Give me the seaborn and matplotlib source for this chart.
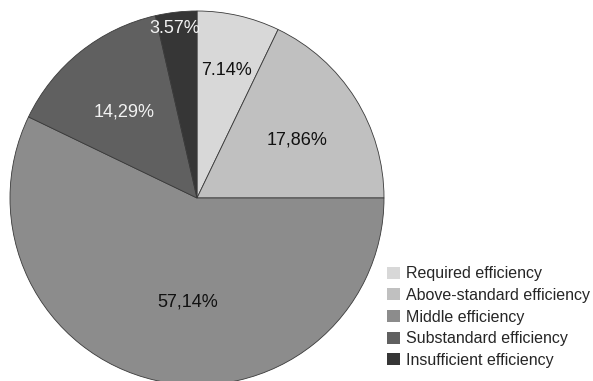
import numpy as np
import matplotlib
matplotlib.use("Agg")
import matplotlib.pyplot as plt
import seaborn as sns

categories = ["Required efficiency", "Above-standard efficiency", "Middle efficiency",
              "Substandard efficiency", "Insufficient efficiency"]
shares = [7.14, 17.86, 57.14, 14.29, 3.57]
value_labels = ["7.14%", "17,86%", "57,14%", "14,29%", "3.57%"]

sns.set_theme(style="white")
plt.rcParams["font.family"] = ["Liberation Sans", "DejaVu Sans"]

colors = ["#d8d8d8", "#c0c0c0", "#8c8c8c", "#606060", "#363636"]
text_colors = ["#111111", "#111111", "#111111", "#f2f2f2", "#f2f2f2"]
label_radius = [0.70, 0.62, 0.56, 0.60, 0.915]
label_shift = [0, -2, 7.5, 1.7, 1]  # degrees, nudges along the arc

W, H = 593, 381
fig = plt.figure(figsize=(W / 100, H / 100), dpi=100)
ax = fig.add_axes([0, 0, 1, 1])

R = 187.0
cx, cy = 197.0, 198.0
wedges, _ = ax.pie(shares, colors=colors, startangle=90, counterclock=False,
                   radius=1.0, center=(0, 0),
                   wedgeprops=dict(edgecolor="#3a3a3a", linewidth=0.6))

for w, lab, tc, rr, sh in zip(wedges, value_labels, text_colors, label_radius, label_shift):
    mid = np.deg2rad((w.theta1 + w.theta2) / 2 + sh)
    ax.text(rr * np.cos(mid), rr * np.sin(mid), lab, ha="center", va="center",
            fontsize=13, color=tc)

ax.set_xlim(-cx / R, (W - cx) / R)
ax.set_ylim(-(H - cy) / R, cy / R)
ax.set_aspect("equal", adjustable="datalim")
ax.axis("off")

leg = fig.legend(wedges, categories, loc="upper left",
                 bbox_to_anchor=(376 / W, 1 - 255 / H), frameon=False,
                 fontsize=11.5, handlelength=0.78, handleheight=0.78,
                 handletextpad=0.37, labelspacing=0.42, borderpad=0.2)
for h in leg.legend_handles:
    h.set_edgecolor("none")

fig.savefig("out.png", dpi=100, facecolor="white")
